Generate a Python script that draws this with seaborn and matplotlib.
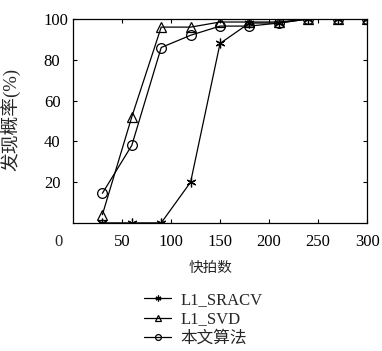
import matplotlib
matplotlib.use("Agg")
import matplotlib.pyplot as plt
import seaborn as sns
import pandas as pd

snapshots = [30, 60, 90, 120, 150, 180, 210, 240, 270, 300]
sracv = [0, 0, 0, 20, 88, 98, 98, 100, 100, 100]
svd = [4, 52, 96, 96, 98.5, 98.5, 98.5, 100, 100, 100]
ours = [14.5, 38, 86, 92, 96.5, 96.5, 98, 100, 100, 100]
series_names = ["L1_SRACV", "L1_SVD", "本文算法"]
x_ticks = [50, 100, 150, 200, 250, 300]
y_ticks = [20, 40, 60, 80, 100]

sns.set_theme(style="ticks")
fams = ["Liberation Serif", "Noto Sans CJK SC", "DejaVu Sans"]
plt.rcParams["font.family"] = fams
plt.rcParams["axes.unicode_minus"] = False

fig = plt.figure(figsize=(3.82, 3.51), dpi=100)
ax = fig.add_axes([0.191, 0.365, 0.770, 0.581])

markers = [(6, 2, 0), "^", "o"]
msizes = [7, 7.5, 7]
for name, vals, mk, ms in zip(series_names, [sracv, svd, ours], markers, msizes):
    df = pd.DataFrame({"x": snapshots, "y": vals})
    sns.lineplot(data=df, x="x", y="y", ax=ax, color="black", linewidth=0.9,
                 marker=mk, markersize=ms, markerfacecolor="none",
                 markeredgecolor="black", markeredgewidth=0.9, label=name)

ax.set_xlim(0, 300)
ax.set_ylim(0, 100)
ax.set_xticks(x_ticks)
ax.set_yticks(y_ticks)
ax.tick_params(direction="in", length=3, width=0.8, top=True, right=True,
               labelsize=12, colors="black")
ax.tick_params(axis="x", pad=8)
ax.tick_params(axis="y", pad=21)
for lab in ax.get_yticklabels():
    lab.set_ha("left")
for s in ax.spines.values():
    s.set_linewidth(0.9)
    s.set_color("black")
ax.text(-15, -0.055, "0", transform=ax.get_xaxis_transform(), ha="center",
        va="top", fontsize=12)
ax.set_xlabel("快拍数", fontsize=10.5)
ax.xaxis.set_label_coords(0.469, -0.19)
ax.set_ylabel("发现概率(%)", fontsize=13.5)
ax.yaxis.set_label_coords(-0.18, 0.505)

handles, labels = ax.get_legend_handles_labels()
ax.legend_.remove()
fig.legend(handles, labels, loc="upper left", bbox_to_anchor=(0.378, 0.168),
           frameon=False, handlelength=1.6, handletextpad=0.55,
           labelspacing=0.2, borderaxespad=0, borderpad=0, markerscale=0.6,
           prop={"family": fams, "size": 12})

fig.savefig("out.png", dpi=100)
